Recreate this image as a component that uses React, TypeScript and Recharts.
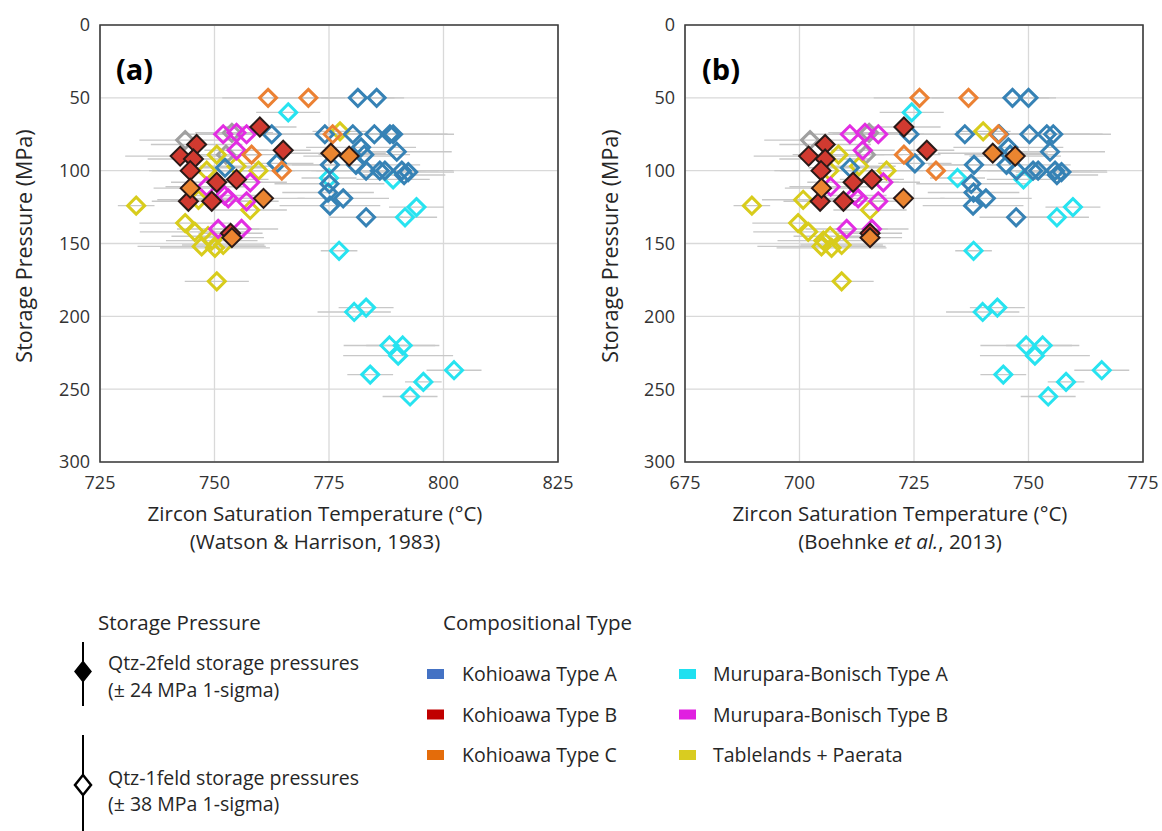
import React from "react";
import { ScatterChart, Scatter, XAxis, YAxis, CartesianGrid, ErrorBar, ReferenceArea } from "recharts";

const FONT = '"Open Sans", "Liberation Sans", sans-serif';

const pressureTicks = [0, 50, 100, 150, 200, 250, 300];
const watsonTicks = [725, 750, 775, 800, 825];
const boehnkeTicks = [675, 700, 725, 750, 775];

// Kohioawa Type A (Qtz-1feld, open)
const kaP = [50, 50, 75, 75, 75, 75, 75, 75, 84, 89, 87, 95, 96, 96, 98, 100, 100, 100, 100, 101, 103, 109, 115, 119, 124, 132];
const kaTW = [781.3, 785.4, 762.5, 774.1, 780.2, 784.9, 788.3, 789.0, 782.0, 782.7, 789.8, 763.6, 775.2, 780.9, 752.3, 783.1, 786.1, 787.2, 790.9, 792.3, 791.4, 775.1, 774.8, 778.1, 775.2, 783.1];
const kaTB = [746.5, 750.0, 724.0, 736.1, 743.6, 750.2, 754.0, 755.4, 745.6, 746.0, 754.7, 725.2, 738.1, 745.2, 711.0, 747.4, 751.0, 752.1, 755.8, 757.2, 756.2, 737.5, 738.0, 740.7, 737.9, 747.3];
const kaErr = [8, 6, 10, 12, 10, 16, 14, 8, 12, 10, 12, 8, 10, 14, 9, 12, 10, 15, 8, 10, 9, 12, 10, 10, 11, 8];

// Kohioawa Type B (Qtz-2feld, filled)
const kbP = [70, 82, 86, 90, 92, 100, 106, 108, 121, 121, 143];
const kbTW = [759.9, 746.1, 765.0, 742.5, 745.4, 744.7, 754.8, 750.5, 744.3, 749.4, 753.5];
const kbTB = [722.8, 705.6, 727.8, 702.0, 705.6, 704.7, 715.8, 711.7, 704.5, 709.6, 715.4];
const kbErr = [8, 10, 6, 12, 10, 9, 7, 10, 8, 9, 7];

// Kohioawa Type C (Qtz-1feld, open)
const kcOpenP = [50, 50, 75, 89, 100];
const kcOpenTW = [761.7, 770.5, 775.8, 758.1, 764.7];
const kcOpenTB = [726.2, 736.9, 743.4, 722.8, 729.8];
const kcOpenErr = [10, 8, 9, 8, 9];

// Kohioawa Type C (Qtz-2feld, filled)
const kcFillP = [88, 90, 112, 119, 146];
const kcFillTW = [775.4, 779.4, 744.7, 760.7, 753.8];
const kcFillTB = [742.2, 747.1, 704.8, 722.7, 715.4];
const kcFillErr = [12, 10, 8, 9, 7];

// Murupara-Bonisch Type A
const maP = [60, 105, 106, 132, 125, 155, 197, 194, 220, 220, 227, 240, 237, 245, 255];
const maTW = [766.1, 775.0, 789.0, 791.6, 794.1, 777.2, 780.5, 783.1, 788.2, 791.1, 790.1, 784.0, 802.3, 795.6, 792.7];
const maTB = [724.5, 734.5, 748.9, 756.2, 759.7, 738.0, 740.0, 743.2, 749.5, 753.1, 751.4, 744.5, 766.0, 758.2, 754.3];
const maErr = [7, 6, 8, 7, 6, 4, 8, 6, 10, 8, 12, 5, 6, 4, 6];

// Murupara-Bonisch Type B
const mbP = [75, 74, 75, 86, 108, 111, 119, 121, 140, 140, 117];
const mbTW = [751.9, 754.8, 757.0, 754.8, 757.8, 748.3, 753.0, 757.0, 750.8, 755.9, 752.2];
const mbTB = [711.0, 714.3, 717.2, 713.8, 718.3, 706.8, 712.8, 717.2, 710.3, 715.8, 712.0];
const mbErr = [9, 8, 10, 7, 8, 9, 8, 7, 9, 8, 7];

// Tablelands + Paerata
const tpP = [73, 89, 97, 100, 100, 120, 124, 127, 136, 142, 145, 148, 152, 153, 151, 176];
const tpTW = [777.4, 750.5, 754.8, 748.3, 759.6, 746.5, 732.9, 757.8, 743.6, 745.7, 748.6, 749.4, 747.2, 750.1, 751.9, 750.5];
const tpTB = [740.1, 708.5, 713.0, 706.5, 719.0, 700.8, 689.6, 715.4, 699.7, 701.9, 706.7, 705.2, 704.8, 707.0, 709.2, 709.2];
const tpErr = [6, 10, 8, 12, 8, 9, 4, 8, 10, 12, 8, 10, 14, 12, 9, 7];

// Unclassified (grey)
const grP = [79, 74, 89];
const grTW = [743.6, 753.8, 752.5];
const grTB = [702.3, 715.2, 714.5];
const grErr = [10, 8, 8];

type Pt = { x: number; y: number; err: number };
const build = (P: number[], T: number[], E: number[]): Pt[] => P.map((p, i) => ({ x: T[i], y: p, err: E[i] }));

type Series = { name: string; dataW: Pt[]; dataB: Pt[]; stroke: string; fill: string; sw: number; r: number };

const SERIES: Series[] = [
  { name: "Unclassified", dataW: build(grP, grTW, grErr), dataB: build(grP, grTB, grErr), stroke: "#A0A0A0", fill: "none", sw: 3, r: 8.5 },
  { name: "Tablelands + Paerata", dataW: build(tpP, tpTW, tpErr), dataB: build(tpP, tpTB, tpErr), stroke: "#D8CC1C", fill: "none", sw: 3, r: 8.5 },
  { name: "Murupara-Bonisch Type B", dataW: build(mbP, mbTW, mbErr), dataB: build(mbP, mbTB, mbErr), stroke: "#E22DE2", fill: "none", sw: 3, r: 8.5 },
  { name: "Murupara-Bonisch Type A", dataW: build(maP, maTW, maErr), dataB: build(maP, maTB, maErr), stroke: "#27E3F0", fill: "none", sw: 3, r: 8.5 },
  { name: "Kohioawa Type A", dataW: build(kaP, kaTW, kaErr), dataB: build(kaP, kaTB, kaErr), stroke: "#3682B5", fill: "none", sw: 3, r: 8.5 },
  { name: "Kohioawa Type C open", dataW: build(kcOpenP, kcOpenTW, kcOpenErr), dataB: build(kcOpenP, kcOpenTB, kcOpenErr), stroke: "#EB8133", fill: "none", sw: 3, r: 8.5 },
  { name: "Kohioawa Type B", dataW: build(kbP, kbTW, kbErr), dataB: build(kbP, kbTB, kbErr), stroke: "#2A1A18", fill: "#D13A30", sw: 2, r: 9.5 },
  { name: "Kohioawa Type C filled", dataW: build(kcFillP, kcFillTW, kcFillErr), dataB: build(kcFillP, kcFillTB, kcFillErr), stroke: "#2A1A18", fill: "#EB8530", sw: 2, r: 9.5 },
];

const legendTypes = [
  { label: "Kohioawa Type A", color: "#4472C4" },
  { label: "Kohioawa Type B", color: "#C00000" },
  { label: "Kohioawa Type C", color: "#E46C0A" },
  { label: "Murupara-Bonisch Type A", color: "#1FE0F0" },
  { label: "Murupara-Bonisch Type B", color: "#E020E0" },
  { label: "Tablelands + Paerata", color: "#D9CC20" },
];

const diamond = (stroke: string, fill: string, sw: number, r: number) => (props: any) => {
  const { cx, cy } = props;
  if (cx == null || cy == null) return <g />;
  return (
    <path
      d={`M${cx},${cy - r}L${cx + r},${cy}L${cx},${cy + r}L${cx - r},${cy}Z`}
      fill={fill}
      stroke={stroke}
      strokeWidth={sw}
    />
  );
};

const tickStyle = { fontSize: 18, fill: "#333333", fontFamily: FONT };

function Panel({ left, which, domain, ticks }: { left: number; which: "w" | "b"; domain: [number, number]; ticks: number[] }) {
  return (
    <div style={{ position: "absolute", left, top: 0 }}>
      <ScatterChart width={577} height={500} margin={{ top: 25, right: 19, bottom: 0, left: 0 }}>
        <CartesianGrid stroke="#D9D9D9" strokeWidth={1.3} />
        <XAxis
          type="number"
          dataKey="x"
          domain={domain}
          ticks={ticks}
          allowDataOverflow
          axisLine={false}
          tickLine={false}
          tickMargin={8}
          height={38}
          tick={tickStyle}
        />
        <YAxis
          type="number"
          dataKey="y"
          domain={[0, 300]}
          ticks={pressureTicks}
          reversed
          allowDataOverflow
          axisLine={false}
          tickLine={false}
          tickMargin={4}
          width={100}
          tick={tickStyle}
        />
        <ReferenceArea x1={domain[0]} x2={domain[1]} y1={0} y2={300} fill="none" fillOpacity={0} stroke="#3C3C3C" strokeWidth={1.6} ifOverflow="visible" />
        {SERIES.map((s) => (
          <Scatter
            key={s.name}
            name={s.name}
            data={which === "w" ? s.dataW : s.dataB}
            shape={diamond(s.stroke, s.fill, s.sw, s.r)}
            isAnimationActive={false}
          >
            <ErrorBar dataKey="err" direction="x" width={0} stroke="#C8C8C8" strokeWidth={1.4} isAnimationActive={false} />
          </Scatter>
        ))}
      </ScatterChart>
    </div>
  );
}

const Txt = ({ left, cy, size = 17, children, bold = false, center = false, color = "#262626" }: any) => (
  <div
    style={{
      position: "absolute",
      left,
      top: cy,
      transform: center ? "translate(-50%, -50%)" : "translateY(-50%)",
      fontFamily: FONT,
      fontSize: size,
      fontWeight: bold ? 700 : 400,
      color,
      whiteSpace: "nowrap",
      lineHeight: 1,
    }}
  >
    {children}
  </div>
);

const YTitle = ({ cx, cy }: { cx: number; cy: number }) => (
  <div
    style={{
      position: "absolute",
      left: cx,
      top: cy,
      transform: "translate(-50%, -50%) rotate(-90deg)",
      fontFamily: FONT,
      fontSize: 21.5,
      color: "#262626",
      whiteSpace: "nowrap",
      lineHeight: 1,
    }}
  >
    Storage Pressure (MPa)
  </div>
);

export default function App() {
  return (
    <div style={{ position: "absolute", left: 0, top: 0, width: 1162, height: 831, background: "#fff", overflow: "hidden" }}>
      <Panel left={0} which="w" domain={[725, 825]} ticks={watsonTicks} />
      <Panel left={585} which="b" domain={[675, 775]} ticks={boehnkeTicks} />

      <Txt left={116} cy={68} size={29} bold color="#000">(a)</Txt>
      <Txt left={702} cy={68} size={29} bold color="#000">(b)</Txt>

      <YTitle cx={24} cy={246} />
      <YTitle cx={610} cy={246} />

      <Txt left={315} cy={513} size={20.5} center>Zircon Saturation Temperature (°C)</Txt>
      <Txt left={315} cy={541} size={20.5} center>(Watson &amp; Harrison, 1983)</Txt>
      <Txt left={900} cy={513} size={20.5} center>Zircon Saturation Temperature (°C)</Txt>
      <Txt left={900} cy={541} size={20.5} center>
        (Boehnke <i>et al.</i>, 2013)
      </Txt>

      <Txt left={98} cy={622} size={20.5}>Storage Pressure</Txt>
      <Txt left={443} cy={622} size={20.5}>Compositional Type</Txt>

      <svg style={{ position: "absolute", left: 0, top: 0 }} width={1162} height={831}>
        <line x1={83} y1={642} x2={83} y2={706} stroke="#000" strokeWidth={2} />
        <path d="M83,661.5L91,671.5L83,681.5L75,671.5Z" fill="#000" stroke="#000" strokeWidth={1.5} />
        <line x1={83} y1={735} x2={83} y2={831} stroke="#000" strokeWidth={2} />
        <path d="M83,775L91,785L83,795L75,785Z" fill="#fff" stroke="#000" strokeWidth={2.5} />
        {legendTypes.map((t, i) => {
          const col = Math.floor(i / 3);
          const row = i % 3;
          const x = col === 0 ? 427 : 679;
          const y = [674, 714.5, 755][row];
          return <rect key={t.label} x={x} y={y - 5} width={17} height={10} fill={t.color} />;
        })}
      </svg>

      <Txt left={108} cy={663} size={19.5}>Qtz-2feld storage pressures</Txt>
      <Txt left={108} cy={689.5} size={19.5}>(± 24 MPa 1-sigma)</Txt>
      <Txt left={108} cy={778} size={19.5}>Qtz-1feld storage pressures</Txt>
      <Txt left={108} cy={803.5} size={19.5}>(± 38 MPa 1-sigma)</Txt>

      {legendTypes.map((t, i) => {
        const col = Math.floor(i / 3);
        const row = i % 3;
        return (
          <Txt key={t.label} left={col === 0 ? 462 : 713} cy={[674, 714.5, 755][row]} size={19.5}>
            {t.label}
          </Txt>
        );
      })}
    </div>
  );
}
